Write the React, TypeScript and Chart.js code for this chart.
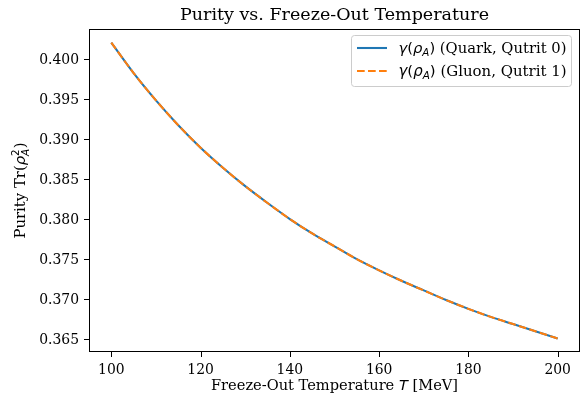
import React, { useEffect, useRef } from "react";
import { Chart, registerables } from "chart.js";

Chart.register(...registerables);

const temperatures = [100, 105, 110, 115, 120, 125, 130, 135, 140, 145, 150, 155, 160, 165, 170, 175, 180, 185, 190, 195, 200];
const purityQuark = [0.4020, 0.3982, 0.3948, 0.3917, 0.3889, 0.3864, 0.3841, 0.3820, 0.3800, 0.3782, 0.3766, 0.3750, 0.3736, 0.3723, 0.3711, 0.3699, 0.3688, 0.3678, 0.3669, 0.3660, 0.3651];
const purityGluon = [0.4020, 0.3982, 0.3948, 0.3917, 0.3889, 0.3864, 0.3841, 0.3820, 0.3800, 0.3782, 0.3766, 0.3750, 0.3736, 0.3723, 0.3711, 0.3699, 0.3688, 0.3678, 0.3669, 0.3660, 0.3651];
const xTicks = [100, 120, 140, 160, 180, 200];
const yTicks = [0.365, 0.37, 0.375, 0.38, 0.385, 0.39, 0.395, 0.4];

const titleText = "Purity vs. Freeze-Out Temperature";
const quarkLabel = " (Quark, Qutrit 0)";
const gluonLabel = " (Gluon, Qutrit 1)";

const SERIF = "'DejaVu Serif', serif";
const SANS = "'DejaVu Sans', sans-serif";
const FS = 13.9;
const BLUE = "#1f77b4";
const ORANGE = "#ff7f0e";

type Seg = { t: string; size: number; fam: string; style?: string; dy?: number; w?: number };

function fontOf(s: Seg, k: number) {
  return `${s.style ? s.style + " " : ""}${s.size * k}px ${s.fam}`;
}

function measureSegs(ctx: CanvasRenderingContext2D, segs: Seg[], k: number) {
  let total = 0;
  segs.forEach((s) => {
    ctx.font = fontOf(s, k);
    total += s.w !== undefined ? s.w * k : ctx.measureText(s.t).width;
  });
  return total;
}

// draws segments; if target given, font scale is fitted so the total width equals target
function drawSegs(ctx: CanvasRenderingContext2D, segs: Seg[], x: number, y: number, align: "left" | "center", target?: number) {
  let k = 1;
  if (target) k = target / measureSegs(ctx, segs, 1);
  const total = measureSegs(ctx, segs, k);
  let cx = align === "center" ? x - total / 2 : x;
  segs.forEach((s) => {
    ctx.font = fontOf(s, k);
    ctx.fillText(s.t, cx, y + (s.dy || 0) * k);
    cx += s.w !== undefined ? s.w * k : ctx.measureText(s.t).width;
  });
}

function gammaRhoSegs(label: string): Seg[] {
  return [
    { t: "\u03b3", size: FS, fam: SANS, style: "oblique" },
    { t: "(", size: FS, fam: SANS },
    { t: "\u03c1", size: FS, fam: SANS, style: "oblique" },
    { t: "A", size: FS * 0.7, fam: SANS, style: "oblique", dy: 2.8 },
    { t: ")", size: FS, fam: SANS },
    { t: label, size: FS, fam: SERIF },
  ];
}

const overlay = {
  id: "overlay",
  afterDraw(chart: any) {
    const ctx: CanvasRenderingContext2D = chart.ctx;
    const a = chart.chartArea;
    const xs = chart.scales.x;
    const ys = chart.scales.y;
    ctx.save();
    // frame
    ctx.strokeStyle = "#000";
    ctx.lineWidth = 1;
    ctx.strokeRect(Math.round(a.left) + 0.5, Math.round(a.top) + 0.5, Math.round(a.right - a.left) - 1, Math.round(a.bottom - a.top) - 1);
    // tick marks and tick labels from the chart's scales
    ctx.fillStyle = "#000";
    ctx.font = `${FS}px ${SERIF}`;
    ctx.textBaseline = "alphabetic";
    ctx.beginPath();
    xs.ticks.forEach((t: any) => {
      const px = Math.round(xs.getPixelForValue(t.value)) + 0.5;
      ctx.moveTo(px, a.bottom);
      ctx.lineTo(px, a.bottom + 5);
    });
    ys.ticks.forEach((t: any) => {
      const py = Math.round(ys.getPixelForValue(t.value)) + 0.5;
      ctx.moveTo(a.left, py);
      ctx.lineTo(a.left - 5, py);
    });
    ctx.stroke();
    ctx.textAlign = "center";
    xs.ticks.forEach((t: any) => {
      ctx.fillText(String(t.value), xs.getPixelForValue(t.value), a.bottom + 22.3);
    });
    ctx.textAlign = "right";
    ys.ticks.forEach((t: any) => {
      ctx.fillText(Number(t.value).toFixed(3), a.left - 10, ys.getPixelForValue(t.value) + 5.1);
    });
    ctx.textAlign = "left";
    // title
    drawSegs(ctx, [{ t: titleText, size: 16.7, fam: SERIF }], (a.left + a.right) / 2, a.top - 9.5, "center", 309);
    // x label
    drawSegs(ctx, [
      { t: "Freeze-Out Temperature ", size: FS, fam: SERIF },
      { t: "T", size: FS, fam: SANS, style: "oblique" },
      { t: " [MeV]", size: FS, fam: SERIF },
    ], (a.left + a.right) / 2, 390, "center", 247);
    // y label
    ctx.save();
    ctx.translate(25, (a.top + a.bottom) / 2);
    ctx.rotate(-Math.PI / 2);
    ctx.font = `${FS * 0.7}px ${SANS}`;
    const w2 = ctx.measureText("2").width;
    ctx.font = `oblique ${FS * 0.7}px ${SANS}`;
    const wA = ctx.measureText("A").width;
    drawSegs(ctx, [
      { t: "Purity Tr(", size: FS, fam: SERIF },
      { t: "\u03c1", size: FS, fam: SANS, style: "oblique" },
      { t: "2", size: FS * 0.7, fam: SANS, dy: -6, w: 0 },
      { t: "A", size: FS * 0.7, fam: SANS, style: "oblique", dy: 3.5, w: Math.max(w2, wA) + 0.5 },
      { t: ")", size: FS, fam: SERIF },
    ], 0, 0, "center", 96);
    ctx.restore();
    // legend
    const bx = 351.5, by = 35.5, bw = 220, bh = 51, r = 3;
    ctx.beginPath();
    ctx.moveTo(bx + r, by);
    ctx.arcTo(bx + bw, by, bx + bw, by + bh, r);
    ctx.arcTo(bx + bw, by + bh, bx, by + bh, r);
    ctx.arcTo(bx, by + bh, bx, by, r);
    ctx.arcTo(bx, by, bx + bw, by, r);
    ctx.closePath();
    ctx.fillStyle = "rgba(255,255,255,0.8)";
    ctx.fill();
    ctx.strokeStyle = "#cccccc";
    ctx.lineWidth = 1;
    ctx.stroke();
    const rows = [
      { y: 48, color: BLUE, dash: [] as number[], label: quarkLabel },
      { y: 71, color: ORANGE, dash: [7.7, 3.3], label: gluonLabel },
    ];
    rows.forEach((row) => {
      ctx.beginPath();
      ctx.setLineDash(row.dash);
      ctx.strokeStyle = row.color;
      ctx.lineWidth = 2.08;
      ctx.moveTo(357, row.y);
      ctx.lineTo(387, row.y);
      ctx.stroke();
      ctx.setLineDash([]);
      ctx.fillStyle = "#000";
      drawSegs(ctx, gammaRhoSegs(row.label), 398.5, row.y + 5, "left", 168);
    });
    ctx.restore();
  },
};

export default function App() {
  const ref = useRef<HTMLCanvasElement | null>(null);
  useEffect(() => {
    document.body.style.margin = "0";
    const canvas = ref.current!;
    const chart = new Chart(canvas, {
      type: "line",
      data: {
        datasets: [
          {
            label: "Quark",
            data: temperatures.map((t, i) => ({ x: t, y: purityQuark[i] })),
            borderColor: BLUE,
            borderWidth: 2.08,
            pointRadius: 0,
            cubicInterpolationMode: "monotone",
            fill: false,
            order: 2,
          },
          {
            label: "Gluon",
            data: temperatures.map((t, i) => ({ x: t, y: purityGluon[i] })),
            borderColor: ORANGE,
            borderWidth: 2.08,
            borderDash: [7.7, 3.3],
            pointRadius: 0,
            cubicInterpolationMode: "monotone",
            fill: false,
            order: 1,
          },
        ],
      },
      plugins: [overlay],
      options: {
        animation: false,
        responsive: false,
        devicePixelRatio: 1,
        layout: { padding: { top: 29, right: 3, left: 0, bottom: 0 } },
        plugins: { legend: { display: false }, tooltip: { enabled: false }, title: { display: false } },
        scales: {
          x: {
            type: "linear",
            min: 95,
            max: 205,
            afterBuildTicks: (s: any) => { s.ticks = xTicks.map((v) => ({ value: v })); },
            afterFit: (s: any) => { s.height = 50; },
            ticks: { display: false },
            grid: { display: false },
            border: { display: false },
          },
          y: {
            type: "linear",
            min: 0.36342,
            max: 0.4037,
            afterBuildTicks: (s: any) => { s.ticks = yTicks.map((v) => ({ value: v })); },
            afterFit: (s: any) => { s.width = 89; },
            ticks: { display: false },
            grid: { display: false },
            border: { display: false },
          },
        },
      },
    } as any);
    return () => chart.destroy();
  }, []);
  return (
    <div style={{ position: "absolute", left: 0, top: 0, width: 583, height: 402 }}>
      <canvas ref={ref} width={583} height={402} style={{ width: 583, height: 402, display: "block" }} />
    </div>
  );
}
